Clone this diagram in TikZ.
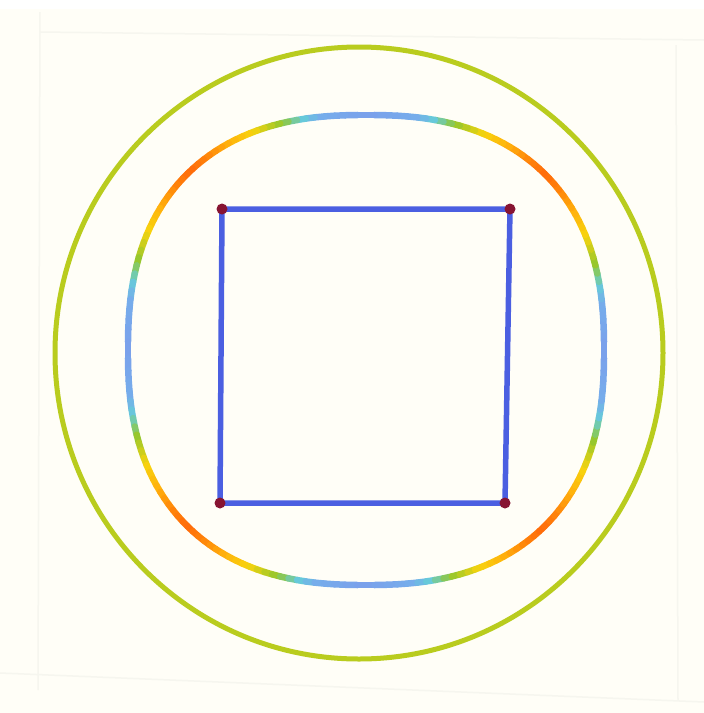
\documentclass[tikz,border=0pt]{standalone}
\usetikzlibrary{calc,shapes.geometric}
\definecolor{paper}{RGB}{255,254,247}
\definecolor{edge}{RGB}{246,246,239}
\definecolor{ringc}{RGB}{185,204,30}
\definecolor{sqc}{RGB}{75,95,225}
\definecolor{dotc}{RGB}{135,20,50}
\tikzset{
  ring/.style={draw=ringc, line width=5pt},
  sqline/.style={draw=sqc, line width=5.5pt, line cap=round, line join=round},
  corner/.style={circle, fill=dotc, inner sep=0pt, minimum size=11pt},
  seg/.style={line width=6.5pt, line cap=round},
}
\begin{document}
\begin{tikzpicture}[x=1pt,y=-1pt]
\useasboundingbox (0,0) rectangle (704,713);
\fill[white] (0,0) rectangle (704,713);
\fill[paper] (0,9) rectangle (704,713);
\draw[edge, line width=1.5pt] (40,12) -- (38,690);
\draw[edge, line width=1.5pt] (40,32) -- (704,40);
\draw[edge, line width=1.5pt] (0,673) -- (704,702);
\draw[edge, line width=1.5pt] (676,45) -- (678,700);
% outer ring
\node[ring, ellipse, minimum width=608pt, minimum height=612pt, inner sep=0pt] (outer) at (359,353) {};
% inner coloured rounded square (superellipse)
\foreach \t in {0,2,...,358}{
  \pgfmathsetmacro{\ta}{\t+1}
  \pgfmathsetmacro{\tb}{\t+3}
  \pgfmathsetmacro{\xa}{366+238*sign(cos(\ta))*pow(abs(cos(\ta)),0.83)}
  \pgfmathsetmacro{\ya}{350-235*sign(sin(\ta))*pow(abs(sin(\ta)),0.83)}
  \pgfmathsetmacro{\xb}{366+238*sign(cos(\tb))*pow(abs(cos(\tb)),0.83)}
  \pgfmathsetmacro{\yb}{350-235*sign(sin(\tb))*pow(abs(sin(\tb)),0.83)}
  \pgfmathsetmacro{\ph}{atan2((\ya+\yb)/2-350,(\xa+\xb)/2-366)}
  \pgfmathsetmacro{\am}{mod(abs(\ph),90)}
  \pgfmathsetmacro{\al}{min(\am,90-\am)}
  % stops: 0,12,16,21,28,34,40,45
  \pgfmathsetmacro{\wa}{max(0,(12-\al)/12)}
  \pgfmathsetmacro{\wb}{max(0,min(\al/12,(16-\al)/4))}
  \pgfmathsetmacro{\wc}{max(0,min((\al-12)/4,(21-\al)/5))}
  \pgfmathsetmacro{\wd}{max(0,min((\al-16)/5,(28-\al)/7))}
  \pgfmathsetmacro{\we}{max(0,min((\al-21)/7,(34-\al)/6))}
  \pgfmathsetmacro{\wf}{max(0,min((\al-28)/6,(40-\al)/6))}
  \pgfmathsetmacro{\wg}{max(0,min((\al-34)/6,(45-\al)/5))}
  \pgfmathsetmacro{\wh}{max(0,(\al-40)/5)}
  \pgfmathsetmacro{\cr}{0.48*\wa+0.46*\wb+0.40*\wc+0.58*\wd+0.97*\we+1.0*\wf+1.0*\wg+1.0*\wh}
  \pgfmathsetmacro{\cg}{0.63*\wa+0.68*\wb+0.80*\wc+0.78*\wd+0.83*\we+0.70*\wf+0.52*\wg+0.42*\wh}
  \pgfmathsetmacro{\cb}{0.92*\wa+0.92*\wb+0.85*\wc+0.18*\wd+0.05*\we+0.05*\wf+0.04*\wg+0.04*\wh}
  \definecolor{segc}{rgb}{\cr,\cg,\cb}
  \draw[seg, segc] (\xa,\ya) -- (\xb,\yb);
}
% blue square with corner dots
\coordinate (tl) at (222,209);
\coordinate (tr) at (510,209);
\coordinate (br) at (505,503);
\coordinate (bl) at (220,503);
\draw[sqline] (tl) -- (tr) -- (br) -- (bl) -- cycle;
\node[corner] (dtl) at (tl) {};
\node[corner] (dtr) at (tr) {};
\node[corner] (dbr) at (br) {};
\node[corner] (dbl) at (bl) {};
\end{tikzpicture}
\end{document}
